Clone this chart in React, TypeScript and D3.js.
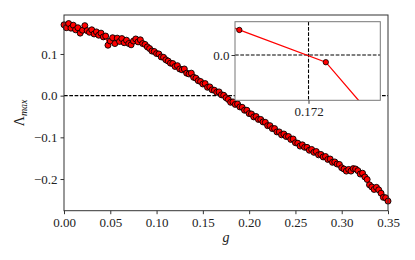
import React, { useEffect, useRef } from 'react';
import * as d3 from 'd3';

// sampled coupling values g
const gValues = [
  0.0000, 0.0025, 0.0050, 0.0075, 0.0100, 0.0125, 0.0150, 0.0175, 0.0200, 0.0225,
  0.0250, 0.0275, 0.0300, 0.0325, 0.0350, 0.0375, 0.0400, 0.0425, 0.0450, 0.0475,
  0.0500, 0.0525, 0.0550, 0.0575, 0.0600, 0.0625, 0.0650, 0.0675, 0.0700, 0.0725,
  0.0750, 0.0775, 0.0800, 0.0825, 0.0850, 0.0875, 0.0900, 0.0925, 0.0950, 0.0975,
  0.1000, 0.1025, 0.1050, 0.1075, 0.1100, 0.1125, 0.1150, 0.1175, 0.1200, 0.1225,
  0.1250, 0.1275, 0.1300, 0.1325, 0.1350, 0.1375, 0.1400, 0.1425, 0.1450, 0.1475,
  0.1500, 0.1525, 0.1550, 0.1575, 0.1600, 0.1625, 0.1650, 0.1675, 0.1700, 0.1725,
  0.1750, 0.1775, 0.1800, 0.1825, 0.1850, 0.1875, 0.1900, 0.1925, 0.1950, 0.1975,
  0.2000, 0.2025, 0.2050, 0.2075, 0.2100, 0.2125, 0.2150, 0.2175, 0.2200, 0.2225,
  0.2250, 0.2275, 0.2300, 0.2325, 0.2350, 0.2375, 0.2400, 0.2425, 0.2450, 0.2475,
  0.2500, 0.2525, 0.2550, 0.2575, 0.2600, 0.2625, 0.2650, 0.2675, 0.2700, 0.2725,
  0.2750, 0.2775, 0.2800, 0.2825, 0.2850, 0.2875, 0.2900, 0.2925, 0.2950, 0.2975,
  0.3000, 0.3025, 0.3050, 0.3075, 0.3100, 0.3125, 0.3150, 0.3175, 0.3200, 0.3225,
  0.3250, 0.3275, 0.3300, 0.3325, 0.3350, 0.3375, 0.3400, 0.3425, 0.3450, 0.3475,
  0.3500,
];

// largest exponent Lambda_max
const lambdaMax = [
  0.170, 0.163, 0.173, 0.162, 0.169, 0.158, 0.163, 0.150, 0.157, 0.168,
  0.156, 0.152, 0.158, 0.148, 0.153, 0.145, 0.150, 0.141, 0.143, 0.121,
  0.131, 0.139, 0.125, 0.138, 0.130, 0.137, 0.127, 0.133, 0.125, 0.122,
  0.131, 0.136, 0.129, 0.134, 0.125, 0.123, 0.117, 0.113, 0.107, 0.106,
  0.101, 0.100, 0.093, 0.092, 0.086, 0.083, 0.078, 0.077, 0.070, 0.072,
  0.064, 0.062, 0.064, 0.054, 0.052, 0.054, 0.044, 0.042, 0.036, 0.034,
  0.028, 0.029, 0.020, 0.021, 0.014, 0.013, 0.008, 0.009, 0.002, 0.001,
  -0.005, -0.009, -0.016, -0.015, -0.021, -0.020, -0.027, -0.028, -0.035, -0.035,
  -0.043, -0.044, -0.051, -0.050, -0.057, -0.057, -0.063, -0.064, -0.072, -0.072,
  -0.079, -0.079, -0.087, -0.087, -0.094, -0.092, -0.098, -0.098, -0.105, -0.104,
  -0.113, -0.114, -0.121, -0.118, -0.124, -0.124, -0.131, -0.129, -0.136, -0.134,
  -0.142, -0.141, -0.147, -0.146, -0.153, -0.152, -0.160, -0.159, -0.164, -0.165,
  -0.173, -0.176, -0.181, -0.177, -0.181, -0.175, -0.176, -0.180, -0.188, -0.186,
  -0.195, -0.201, -0.214, -0.219, -0.225, -0.220, -0.226, -0.234, -0.244, -0.245,
  -0.253,
];

const xTicks = [0, 0.05, 0.1, 0.15, 0.2, 0.25, 0.3, 0.35];
const yTicks = [-0.2, -0.1, 0.0, 0.1];

// zoomed view around the zero crossing
const insetG = [0.1702, 0.1712, 0.1722, 0.1732];
const insetLambda = [0.0022, 0.00094, -0.00027, -0.00405];
const gCross = 0.172;
const insetXLabel = '0.172';

const FONT = '"Liberation Serif", "DejaVu Serif", serif';

const App = () => {
  const svgRef: any = useRef();

  useEffect(() => {
    const width = 415;
    const height = 260;
    const m = { left: 64, right: 27, top: 15, bottom: 49.3 };

    const svg = d3.select(svgRef.current)
      .attr('width', width)
      .attr('height', height);
    svg.selectAll('*').remove();

    const x = d3.scaleLinear().domain([0, 0.35]).range([m.left, width - m.right]);
    const y = d3.scaleLinear().domain([-0.276, 0.1935]).range([height - m.bottom, m.top]);

    const pts = gValues.map((g, i) => [g, lambdaMax[i]]);

    // zero line
    svg.append('line')
      .attr('x1', x(0)).attr('x2', x(0.35))
      .attr('y1', y(0)).attr('y2', y(0))
      .attr('stroke', '#000').attr('stroke-width', 1.1)
      .attr('stroke-dasharray', '3.7,1.6');

    const line: any = d3.line().x((d: any) => x(d[0])).y((d: any) => y(d[1]));
    svg.append('path')
      .attr('d', line(pts))
      .attr('fill', 'none')
      .attr('stroke', 'red')
      .attr('stroke-width', 1.3);

    svg.append('g').selectAll('circle')
      .data(pts)
      .join('circle')
      .attr('cx', (d: any) => x(d[0]))
      .attr('cy', (d: any) => y(d[1]))
      .attr('r', 3)
      .attr('fill', 'red')
      .attr('stroke', '#000')
      .attr('stroke-width', 0.9);

    // axes frame
    svg.append('rect')
      .attr('x', x(0)).attr('y', m.top)
      .attr('width', x(0.35) - x(0)).attr('height', height - m.bottom - m.top)
      .attr('fill', 'none').attr('stroke', '#333').attr('stroke-width', 1);

    const xAxis = svg.append('g')
      .attr('transform', `translate(0,${height - m.bottom})`)
      .call(d3.axisBottom(x).tickValues(xTicks).tickSize(3.5).tickPadding(4)
        .tickFormat((d: any) => d3.format('.2f')(d)));
    xAxis.select('.domain').remove();
    xAxis.selectAll('line').attr('stroke', '#333');
    xAxis.selectAll('text').attr('font-family', FONT).attr('font-size', 13).attr('fill', '#222');

    const yAxis = svg.append('g')
      .attr('transform', `translate(${m.left},0)`)
      .call(d3.axisLeft(y).tickValues(yTicks).tickSize(3.5).tickPadding(3)
        .tickFormat((d: any) => d3.format('.1f')(d).replace('-', '\u2212')));
    yAxis.select('.domain').remove();
    yAxis.selectAll('line').attr('stroke', '#333');
    yAxis.selectAll('text').attr('font-family', FONT).attr('font-size', 13).attr('fill', '#222');

    // axis labels
    svg.append('text')
      .attr('x', (x(0) + x(0.35)) / 2)
      .attr('y', 242)
      .attr('text-anchor', 'middle')
      .attr('font-family', FONT)
      .attr('font-style', 'italic')
      .attr('font-size', 14)
      .attr('fill', '#222')
      .text('g');

    const yl = svg.append('text')
      .attr('transform', `translate(24,${(m.top + height - m.bottom) / 2}) rotate(-90)`)
      .attr('text-anchor', 'middle')
      .attr('font-family', FONT)
      .attr('font-size', 14)
      .attr('fill', '#222');
    yl.append('tspan').text('\u039B');
    yl.append('tspan')
      .attr('font-style', 'italic')
      .attr('font-size', 10)
      .attr('dy', 3)
      .text('max');

    // inset
    const ix = d3.scaleLinear().domain([0.17115, 0.17283]).range([235, 380.3]);
    const iy = d3.scaleLinear().domain([-0.0017, 0.00125]).range([100.3, 21.7]);
    const inset = svg.append('g');
    inset.append('rect')
      .attr('x', 235).attr('y', 21.7)
      .attr('width', 145.3).attr('height', 78.6)
      .attr('fill', '#fff');

    svg.append('clipPath').attr('id', 'insetClip')
      .append('rect')
      .attr('x', 235).attr('y', 21.7)
      .attr('width', 145.3).attr('height', 78.6);

    const ic = inset.append('g').attr('clip-path', 'url(#insetClip)');
    ic.append('line')
      .attr('x1', 235).attr('x2', 380.3)
      .attr('y1', iy(0)).attr('y2', iy(0))
      .attr('stroke', '#000').attr('stroke-width', 1.1)
      .attr('stroke-dasharray', '3.7,1.6');
    ic.append('line')
      .attr('x1', ix(gCross)).attr('x2', ix(gCross))
      .attr('y1', 21.7).attr('y2', 100.3)
      .attr('stroke', '#000').attr('stroke-width', 1.1)
      .attr('stroke-dasharray', '3.7,1.6');
    const ipts = insetG.map((g, i) => [g, insetLambda[i]]);
    const iline: any = d3.line().x((d: any) => ix(d[0])).y((d: any) => iy(d[1]));
    ic.append('path')
      .attr('d', iline(ipts))
      .attr('fill', 'none')
      .attr('stroke', 'red')
      .attr('stroke-width', 1.3);
    ic.selectAll('circle')
      .data(ipts)
      .join('circle')
      .attr('cx', (d: any) => ix(d[0]))
      .attr('cy', (d: any) => iy(d[1]))
      .attr('r', 2.7)
      .attr('fill', 'red')
      .attr('stroke', '#000')
      .attr('stroke-width', 0.8);

    inset.append('rect')
      .attr('x', 235).attr('y', 21.7)
      .attr('width', 145.3).attr('height', 78.6)
      .attr('fill', 'none').attr('stroke', '#777').attr('stroke-width', 1);

    const ixAxis = inset.append('g')
      .attr('transform', 'translate(0,100.3)')
      .call(d3.axisBottom(ix).tickValues([gCross]).tickSize(3.5).tickPadding(3)
        .tickFormat(() => insetXLabel));
    ixAxis.select('.domain').remove();
    ixAxis.selectAll('line').attr('stroke', '#333');
    ixAxis.selectAll('text').attr('font-family', FONT).attr('font-size', 13).attr('fill', '#222');

    const iyAxis = inset.append('g')
      .attr('transform', 'translate(235,0)')
      .call(d3.axisLeft(iy).tickValues([0]).tickSize(3.5).tickPadding(2)
        .tickFormat(() => '0.0'));
    iyAxis.select('.domain').remove();
    iyAxis.selectAll('line').attr('stroke', '#333');
    iyAxis.selectAll('text').attr('font-family', FONT).attr('font-size', 13).attr('fill', '#222');
  }, []);

  return <svg ref={svgRef} style={{ position: 'absolute', left: 0, top: 0 }}></svg>;
};

export default App;
